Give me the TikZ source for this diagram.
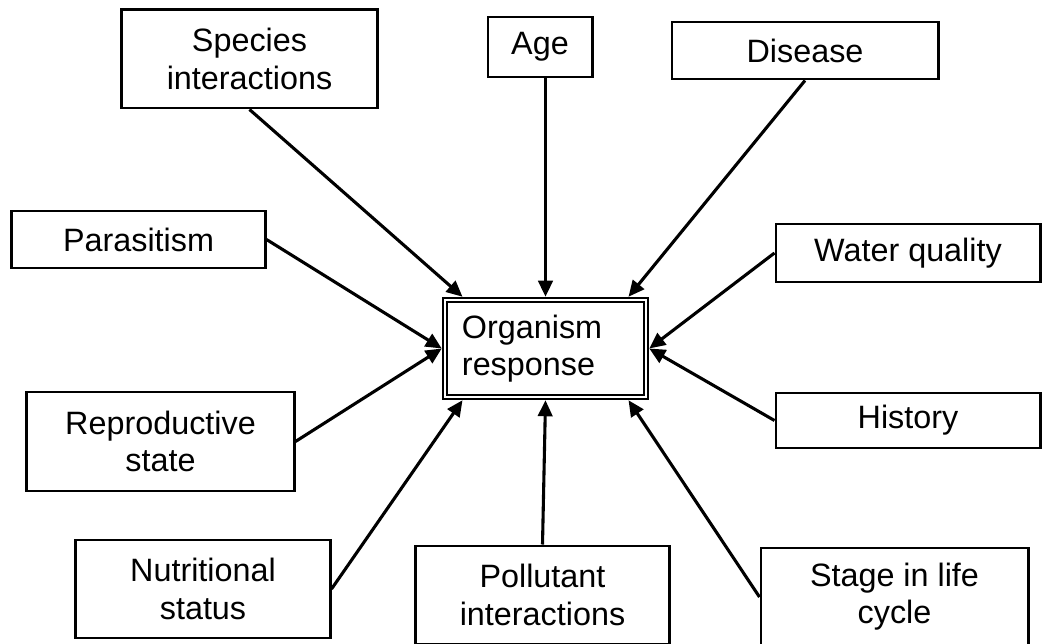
\documentclass[tikz,border=0pt]{standalone}
\usepackage{fontspec}
\setmainfont{Liberation Sans}
\usetikzlibrary{arrows.meta,calc}

\begin{document}
\begin{tikzpicture}[
    x=0.025cm, y=0.025cm,
    factor/.style={draw, line width=2.1pt, inner sep=0pt, align=center, font=\fontsize{23}{26.5}\selectfont},
    hub/.style={draw, double, double distance=1.9pt, line width=1.2pt, outer sep=2.3pt, minimum height=2.425cm, inner xsep=0.425cm, text width=4.175cm, align=left, font=\fontsize{23}{26.5}\selectfont},
    arr/.style={-{Triangle[length=4mm, width=3.6mm]}, line width=2.2pt}
  ]
  \useasboundingbox (0,0) rectangle (1043,643);

  % central response
  \node[hub] (org) at (545.5,294.5) {Organism\\response};

  % factors, top row
  \node[factor, minimum width=6.375cm, minimum height=2.45cm] (species) at (249.5,584) {Species\\interactions};
  \node[factor, minimum width=2.6cm, minimum height=1.5cm] (age) at (540,596) {Age};
  \node[factor, minimum width=6.65cm, minimum height=1.425cm] (disease) at (805,592.5) {Disease};

  % factors, sides
  \node[factor, minimum width=6.325cm, minimum height=1.425cm] (parasit) at (138.5,403.5) {Parasitism};
  \node[factor, minimum width=6.675cm, minimum height=2.475cm] (repro) at (160.5,201.5) {Reproductive\\state};
  \node[factor, minimum width=6.6cm, minimum height=1.45cm] (water) at (908,390) {Water quality};
  \node[factor, minimum width=6.6cm, minimum height=1.375cm] (history) at (908,222.5) {History};

  % factors, bottom row
  \node[factor, minimum width=6.35cm, minimum height=2.45cm] (nutri) at (203,54) {Nutritional\\status};
  \node[factor, minimum width=6.325cm, minimum height=2.45cm] (pollut) at (542.5,48) {Pollutant\\interactions};
  \node[factor, minimum width=6.675cm, minimum height=2.45cm] (stage) at (894.5,46) {Stage in life\\cycle};

  \draw[arr] (species.south) -- ($(org.north west)!0.1!(org.north east)$);
  \draw[arr] (age.south -| org.north) -- (org.north);
  \draw[arr] (disease.south) -- ($(org.north west)!0.9!(org.north east)$);
  \draw[arr] (parasit.east) -- (org.west);
  \draw[arr] (repro.east) -- (org.west);
  \draw[arr] (water.west) -- (org.east);
  \draw[arr] (history.west) -- (org.east);
  \draw[arr] (nutri.east) -- ($(org.south west)!0.1!(org.south east)$);
  \draw[arr] (pollut.north) -- (org.south);
  \draw[arr] (stage.west) -- ($(org.south west)!0.9!(org.south east)$);
\end{tikzpicture}
\end{document}
